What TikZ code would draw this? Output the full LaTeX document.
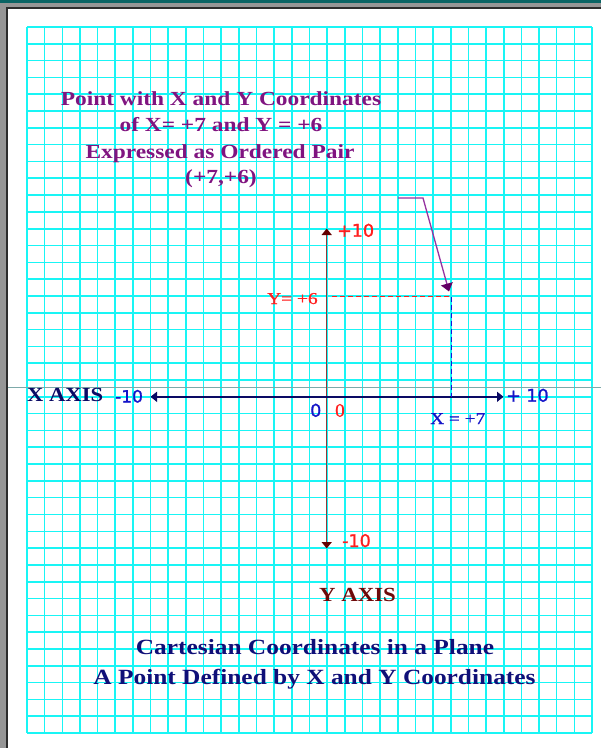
\documentclass[tikz,border=0pt]{standalone}
\usepackage{fontspec}
\setmainfont{Liberation Serif}
\newfontfamily\dvs[FakeBold=1.2]{DejaVu Sans}
\newfontfamily\srfb[FakeBold=0.8]{Liberation Serif}
\usepackage{graphicx}
\usetikzlibrary{arrows.meta}
\definecolor{gridc}{RGB}{25,245,245}
\definecolor{bordergray}{RGB}{150,150,150}
\definecolor{tealbar}{RGB}{10,100,100}
\definecolor{borderdark}{RGB}{45,45,45}
\definecolor{greyline}{RGB}{125,170,170}
\definecolor{yaxc}{RGB}{150,55,55}
\definecolor{yaxtip}{RGB}{100,0,0}
\definecolor{xaxc}{RGB}{10,10,100}
\definecolor{redl}{RGB}{255,30,30}
\definecolor{bluel}{RGB}{20,20,220}
\definecolor{purpl}{RGB}{150,50,160}
\definecolor{purptip}{RGB}{100,0,100}
\definecolor{titlep}{RGB}{128,20,128}
\definecolor{titlen}{RGB}{15,15,120}
\definecolor{blabel}{RGB}{20,20,200}
\definecolor{yaxisl}{RGB}{110,10,10}
\newcommand{\hstretch}[2]{\scalebox{#1}[1]{#2}}
\begin{document}
\begin{tikzpicture}[x=1pt,y=-1pt,
  gridline/.style={draw=gridc,line width=1.6pt},
  lbl/.style={inner sep=0pt,anchor=base west},
  ctr/.style={inner sep=0pt,anchor=base},
  yaxis/.style={draw=yaxc,line width=1.5pt,
    {Triangle[width=10pt,length=6.5pt,color=yaxtip]}-{Triangle[width=10pt,length=6.5pt,color=yaxtip]}},
  xaxis/.style={draw=xaxc,line width=1.5pt,
    {Triangle[width=10pt,length=6.5pt]}-{Triangle[width=10pt,length=6.5pt]}},
  reddash/.style={draw=redl,line width=1.1pt,dash pattern=on 5pt off 3pt},
  bluedash/.style={draw=bluel,line width=1.3pt,dash pattern=on 5pt off 3pt},
  pointer/.style={draw=purpl,line width=1.3pt,-{Triangle[width=12pt,length=8pt,color=purptip]}}
]
\useasboundingbox (0,0) rectangle (601,748);
\fill[white] (0,0) rectangle (601,748);
% window border
\fill[bordergray] (0,0) rectangle (601,8);
\fill[bordergray] (0,0) rectangle (7,748);
\fill[tealbar] (0,0) rectangle (601,3.3);
\draw[borderdark,line width=1.5pt] (7.2,748) -- (7.2,8.2) -- (601,8.2);
% grid
\foreach \i in {0,...,32} \draw[gridline] ({27+17.656*\i},27) -- ({27+17.656*\i},733);
\foreach \j in {0,...,42} \draw[gridline] (27,{27+16.81*\j}) -- (592,{27+16.81*\j});
% long grey line
\coordinate (gl) at (8,387);
\coordinate (gr) at (601,387);
\draw[greyline,line width=0.9pt] (gl) -- (gr);
% coordinates
\coordinate (yt) at (326.7,228.5);
\coordinate (yb) at (326.7,548.5);
\coordinate (xl) at (150.5,396.8);
\coordinate (xr) at (503.5,396.8);
\coordinate (ys) at (332,296.5);
\coordinate (pt) at (451.5,296.5);
\coordinate (xs) at (451.5,396.8);
\coordinate (p0) at (398,198);
\coordinate (p1) at (423,198);
\coordinate (p2) at (449,291.5);
% axes
\draw[yaxis] (yb) -- (yt);
\draw[xaxis] (xl) -- (xr);
\draw[reddash] (ys) -- (pt);
\draw[bluedash] (pt) -- (xs);
\draw[pointer] (p0) -- (p1) -- (p2);
% title
\node[ctr,text=titlep,font=\bfseries\fontsize{20}{24}\selectfont] (t1) at (221,105) {\hstretch{1.17}{Point with X and Y Coordinates}};
\node[ctr,text=titlep,font=\bfseries\fontsize{20}{24}\selectfont] (t2) at (221,131.5) {\hstretch{1.17}{of X= +7 and Y = +6}};
\node[ctr,text=titlep,font=\bfseries\fontsize{20}{24}\selectfont] (t3) at (220,158) {\hstretch{1.17}{Expressed as Ordered Pair}};
\node[ctr,text=titlep,font=\bfseries\fontsize{20}{24}\selectfont] (t4) at (221,183) {\hstretch{1.17}{(+7,+6)}};
% labels
\node[lbl,text=redl,font=\dvs\fontsize{17.5}{20}\selectfont] (l1) at (337,236.7) {+10};
\node[lbl,text=redl,font=\srfb\fontsize{16.6}{20}\selectfont] (l2) at (267,304) {\hstretch{1.17}{Y= +6}};
\node[lbl,text=xaxc,font=\bfseries\fontsize{20}{24}\selectfont] (l3) at (27,401.7) {\hstretch{1.13}{X AXIS}};
\node[lbl,text=blabel,font=\dvs\fontsize{17}{20}\selectfont] (l4) at (115,402.5) {-10};
\node[lbl,text=blabel,font=\dvs\fontsize{17.5}{20}\selectfont] (l5) at (506,401.7) {+ 10};
\node[lbl,text=blabel,font=\dvs\fontsize{17.5}{20}\selectfont] (l6) at (310,416.7) {0};
\node[lbl,text=redl,font=\srfb\fontsize{19}{20}\selectfont] (l7) at (335,416.7) {0};
\node[lbl,text=blabel,font=\srfb\fontsize{16.5}{20}\selectfont] (l8) at (430,424) {\hstretch{1.17}{X = +7}};
\node[lbl,text=redl,font=\dvs\fontsize{17.5}{20}\selectfont] (l9) at (342,547) {-10};
\node[lbl,text=yaxisl,font=\bfseries\fontsize{20}{24}\selectfont] (l10) at (319,601.7) {\hstretch{1.14}{Y AXIS}};
% bottom title
\node[ctr,text=titlen,font=\bfseries\fontsize{21.7}{26}\selectfont] (b1) at (315,654.3) {\hstretch{1.17}{Cartesian Coordinates in a Plane}};
\node[ctr,text=titlen,font=\bfseries\fontsize{21.7}{26}\selectfont] (b2) at (314.5,684) {\hstretch{1.17}{A Point Defined by X and Y Coordinates}};
\end{tikzpicture}
\end{document}
